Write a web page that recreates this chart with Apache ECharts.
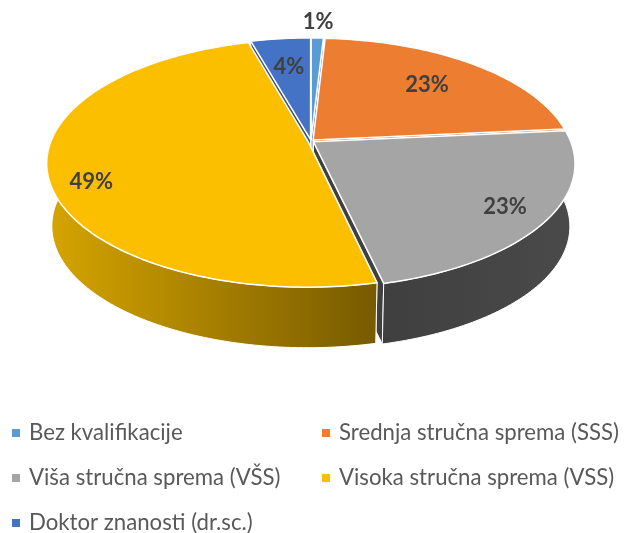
<!DOCTYPE html>
<html>
<head>
<meta charset="utf-8">
<style>
  html, body { margin: 0; padding: 0; background: #fff; }
  #chart { width: 624px; height: 533px; }
</style>
</head>
<body>
<div id="chart"></div>
<script src="https://cdn.jsdelivr.net/npm/echarts@6/dist/echarts.min.js"></script>
<script>
// podaci
const categories = [
  'Bez kvalifikacije',
  'Srednja stručna sprema (SSS)',
  'Viša stručna sprema (VŠS)',
  'Visoka stručna sprema (VSS)',
  'Doktor znanosti (dr.sc.)'
]
const shares = [0.9, 22.6, 22.9, 49.2, 4.4]
const percentLabels = ['1%', '23%', '23%', '49%', '4%']

// boje
const topColors = ['#5b9bd5', '#ed7d31', '#a5a5a5', '#fcbf00', '#4472c4']
const wallColors = [
  ['#3a6a96', '#3a6a96'],
  ['#a65720', '#a65720'],
  ['#3f3f3f', '#4a4a4a'],
  ['#d6a500', '#775a00'],
  ['#2f5089', '#2f5089']
]
const faceColors = ['#3a6a96', '#a65720', '#404040', '#775a00', '#3d4f70']

// polozaj oznaka: polumjer i pomak u pikselima
const labelSpots = [[1.2, 0, 0], [0.71, 0, 0], [0.85, 0, 0], [0.85, 0, 15], [0.7, 0, 0]]

const total = shares.reduce((a, b) => a + b, 0)
const explode = 0.012
const view = { cx: 311, cy: 141, rx: 257, ky: 120, persp: 0.176 }
const base = { cx: 311, cy: 204, rx: 252, ky: 118, persp: 0.176 }

function project(p, angle, r, off) {
  const u = r * Math.sin(angle) + off[0]
  const v = r * Math.cos(angle) + off[1]
  const s = 1 / (1 + p.persp * v)
  return [p.cx + p.rx * u * s, p.cy - p.ky * v * s]
}

function arc(p, from, to, off) {
  const pts = []
  const steps = Math.max(2, Math.ceil((to - from) / 0.02))
  for (let i = 0; i <= steps; i++) {
    pts.push(project(p, from + (to - from) * i / steps, 1, off))
  }
  return pts
}

function toAngle(share) {
  return echarts.number.linearMap(share, [0, total], [0, Math.PI * 2])
}

function renderSlice(index) {
  return function (params, api) {
    const before = shares.slice(0, index).reduce((a, b) => a + b, 0)
    const from = toAngle(before)
    const to = toAngle(before + api.value(0))
    const mid = (from + to) / 2
    const off = [explode * Math.sin(mid), explode * Math.cos(mid)]
    const children = []

    // unutarnje stranice reza
    ;[from, to].forEach(function (a) {
      children.push({
        type: 'polygon',
        z2: 1,
        shape: {
          points: [
            project(view, a, 0, off),
            project(view, a, 1, off),
            project(base, a, 1, off),
            project(base, a, 0, off)
          ]
        },
        style: { fill: faceColors[index], stroke: '#fff', lineWidth: 1 }
      })
    })

    // prednji zid
    const wallFrom = Math.max(from, Math.PI * 0.47)
    const wallTo = Math.min(to, Math.PI * 1.53)
    if (wallTo > wallFrom) {
      const pts = arc(view, wallFrom, wallTo, off).concat(arc(base, wallFrom, wallTo, off).reverse())
      children.push({
        type: 'polygon',
        z2: 2,
        shape: { points: pts },
        style: {
          fill: new echarts.graphic.LinearGradient(0, 0, 1, 0, [
            { offset: 0, color: wallColors[index][0] },
            { offset: 1, color: wallColors[index][1] }
          ]),
          stroke: '#fff',
          lineWidth: 1
        }
      })
    }

    // gornja ploha
    children.push({
      type: 'polygon',
      z2: 3,
      shape: { points: [project(view, 0, 0, off)].concat(arc(view, from, to, off)) },
      style: { fill: topColors[index], stroke: '#fff', lineWidth: 1.5, lineJoin: 'round' }
    })

    // postotak
    const spot = labelSpots[index]
    const at = project(view, mid, spot[0], [0, 0])
    children.push({
      type: 'text',
      z2: 4,
      style: {
        x: at[0] + spot[1],
        y: at[1] + spot[2],
        text: percentLabels[index],
        fill: '#404040',
        font: 'bold 22px Lato, "Open Sans", sans-serif',
        align: 'center',
        verticalAlign: 'middle'
      }
    })

    return { type: 'group', children: children }
  }
}

const legendLeft = [12, 322, 12, 322, 12]
const legendTop = [421, 421, 466, 466, 511]

const chart = echarts.init(document.getElementById('chart'), null, { renderer: 'canvas' })
chart.setOption({
  animation: false,
  backgroundColor: '#fff',
  legend: categories.map(function (name, i) {
    return {
      data: [name],
      left: legendLeft[i],
      top: legendTop[i],
      padding: 0,
      icon: 'rect',
      itemWidth: 8,
      itemHeight: 8,
      textStyle: {
        color: '#595959',
        fontSize: 22.2,
        fontFamily: 'Lato, "Open Sans", sans-serif',
        padding: [0, 0, 0, 4],
        lineHeight: 24
      },
      selectedMode: false
    }
  }),
  series: categories.map(function (name, i) {
    return {
      name: name,
      type: 'custom',
      coordinateSystem: 'none',
      itemStyle: { color: topColors[i] },
      renderItem: renderSlice(i),
      data: [[shares[i]]],
      silent: true
    }
  })
})
</script>
</body>
</html>
